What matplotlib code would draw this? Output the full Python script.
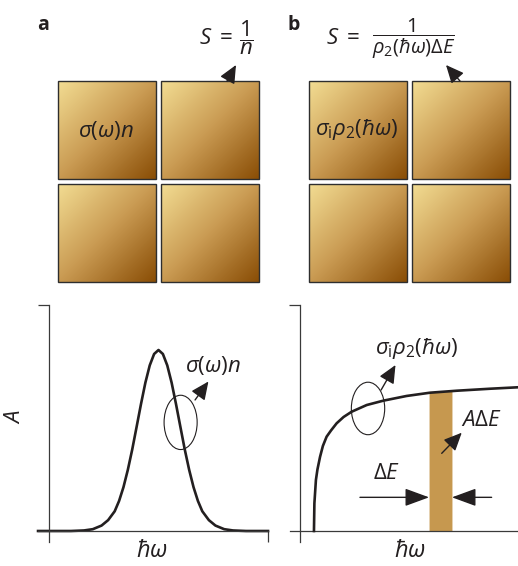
import numpy as np
import matplotlib
matplotlib.use("Agg")
import matplotlib.pyplot as plt
from matplotlib.colors import LinearSegmentedColormap
from matplotlib.patches import Ellipse, Rectangle, FancyArrowPatch

plt.rcParams['font.family'] = ['Open Sans', 'DejaVu Sans']
plt.rcParams['mathtext.fontset'] = 'custom'
plt.rcParams['mathtext.rm'] = 'Open Sans'
plt.rcParams['mathtext.it'] = 'Open Sans:italic'
plt.rcParams['mathtext.bf'] = 'Open Sans:bold'

# ---- data -----------------------------------------------------------------
# (a) discrete absorption line, A versus photon energy (arbitrary units)
line_energy = [-0.5, 1.0, 1.6, 2.0, 2.4, 2.7, 3.0, 3.2, 3.4, 3.6, 3.8, 4.0,
               4.2, 4.4, 4.6, 4.8, 5.0, 5.2, 5.4, 5.6, 5.8, 6.0, 6.2, 6.4,
               6.6, 6.8, 7.0, 7.3, 7.6, 8.0, 8.4, 9.0, 10.0]
line_absorbance = [0.0, 0.0, 0.003, 0.010, 0.030, 0.060, 0.109, 0.166, 0.242,
                   0.338, 0.450, 0.575, 0.701, 0.819, 0.915, 0.978, 1.0, 0.978,
                   0.915, 0.819, 0.701, 0.575, 0.450, 0.338, 0.242, 0.166,
                   0.109, 0.060, 0.030, 0.010, 0.003, 0.0, 0.0]

# (b) continuum absorption above threshold
edge_energy = [0.64, 0.66, 0.73, 0.80, 0.92, 1.05, 1.22, 1.42, 1.68, 2.0,
               2.37, 3.06, 3.82, 4.89, 5.96, 7.19, 8.72, 10.0]
edge_absorbance = [0.0, 0.153, 0.282, 0.34, 0.410, 0.47, 0.521, 0.555, 0.595,
                   0.63, 0.659, 0.696, 0.720, 0.746, 0.764, 0.775, 0.786, 0.794]

# energy window ΔE integrated in (b)
window = [5.92, 6.97]

tile_colors = ['#F2DC92', '#C99A52', '#8A4E06']
band_color = '#C6984F'
ink = '#231F20'
axis_color = '#3a3a3a'

W, H = 518, 566
fig = plt.figure(figsize=(W / 100, H / 100), dpi=100)


def box(x0, y0, x1, y1):
    """Figure-fraction rectangle from pixel edges (origin top-left)."""
    return [x0 / W, 1 - y1 / H, (x1 - x0) / W, (y1 - y0) / H]


# ---- top: 2x2 sample tiles -----------------------------------------------
top = fig.add_axes([0, 0, 1, 1])
top.axis('off')

cmap = LinearSegmentedColormap.from_list('tile', tile_colors)
n = 64
ii, jj = np.mgrid[0:n, 0:n]
grad = (ii + jj) / (2 * (n - 1))

tile = 98
gap = 5
for left in (58, 309):
    for r in range(2):
        for c in range(2):
            x0 = left + c * (tile + gap)
            y0 = 81 + r * (tile + gap)
            top.imshow(grad, cmap=cmap, extent=(x0, x0 + tile, y0 + tile, y0),
                       interpolation='bilinear', zorder=1)
            top.add_patch(Rectangle((x0, y0), tile, tile, fill=False,
                                    ec='#2e2e2e', lw=1.0, zorder=2))
top.set_xlim(0, W)
top.set_ylim(H, 0)

label_size = 16
top.text(106, 130, r'$\sigma(\omega)n$', fontsize=label_size, color=ink,
         ha='center', va='center', zorder=3)
top.text(357, 130, r'$\sigma_{\mathrm{i}}\rho_2(\hbar\omega)$',
         fontsize=label_size, color=ink, ha='center', va='center', zorder=3)

top.text(43, 25, 'a', fontsize=14, fontweight='bold', color=ink,
         ha='center', va='center')
top.text(294, 25, 'b', fontsize=14, fontweight='bold', color=ink,
         ha='center', va='center')

# sampling factor S for each case
top.text(216, 38, r'$S\;=$', fontsize=16, color=ink, ha='center', va='center')
top.text(246, 38, r'$\dfrac{1}{n}$', fontsize=16, color=ink,
         ha='center', va='center')
top.text(343, 38, r'$S\;=$', fontsize=16, color=ink, ha='center', va='center')
top.text(414, 39, r'$\dfrac{1}{\rho_2(\hbar\omega)\Delta E}$', fontsize=14.5,
         color=ink, ha='center', va='center')

for tail, tip in (((227, 81), (236, 65)), ((460, 81), (446, 65))):
    top.add_patch(FancyArrowPatch(tail, tip,
                                  arrowstyle='-|>,head_length=1.1,head_width=0.5',
                                  mutation_scale=10, color=ink, lw=1.0,
                                  shrinkA=0, shrinkB=0, zorder=4))

# axis labels
top.text(15, 417, '$A$', fontsize=16, color=ink, rotation=90,
         ha='center', va='center')
top.text(152, 551, r'$\hbar\omega$', fontsize=17, color=ink,
         ha='center', va='center')
top.text(410, 551, r'$\hbar\omega$', fontsize=17, color=ink,
         ha='center', va='center')


# ---- bottom: absorbance plots --------------------------------------------
def frame(ax, xlim, end_tick):
    ax.set_xlim(*xlim)
    ax.set_ylim(-0.0608, 1.2486)
    ax.patch.set_alpha(0)
    for s in ('top', 'right'):
        ax.spines[s].set_visible(False)
    for s in ('left', 'bottom'):
        ax.spines[s].set_position(('data', 0))
        ax.spines[s].set_color(axis_color)
        ax.spines[s].set_linewidth(0.9)
    ax.set_yticks([1.2486])
    ax.set_xticks([xlim[1]] if end_tick else [])
    ax.tick_params(direction='out', length=8, width=0.9, color=axis_color,
                   labelleft=False, labelbottom=False)


arrow_small = '-|>,head_length=1.1,head_width=0.5'
arrow_big = '-|>,head_length=1.5,head_width=0.55'

ax_a = fig.add_axes(box(38, 305, 268, 542))
frame(ax_a, (-0.502, 10.0), True)
ax_a.plot(line_energy, line_absorbance, color=ink, lw=1.9,
          solid_joinstyle='round', clip_on=False)
ax_a.add_patch(Ellipse((6.01, 0.60), 1.51, 0.30, fill=False, ec=ink, lw=0.8))
ax_a.add_patch(FancyArrowPatch((6.67, 0.724), (7.28, 0.826),
                               arrowstyle=arrow_small, mutation_scale=10,
                               color=ink, lw=1.0, shrinkA=0, shrinkB=0))
ax_a.text(6.21, 0.917, r'$\sigma(\omega)n$', fontsize=label_size, color=ink,
          ha='left', va='center')

ax_b = fig.add_axes(box(290, 305, 518, 542))
frame(ax_b, (-0.459, 10.0), False)

# shaded window under the curve
wx = np.array(edge_energy)
wy = np.array(edge_absorbance)
inside = (wx > window[0]) & (wx < window[1])
bx = np.concatenate([[window[0]], wx[inside], [window[1]]])
by = np.concatenate([[np.interp(window[0], wx, wy)], wy[inside],
                     [np.interp(window[1], wx, wy)]])
ax_b.fill_between(bx, 0, by, color=band_color, lw=0, zorder=1)

ax_b.plot(edge_energy, edge_absorbance, color=ink, lw=1.9,
          solid_joinstyle='round', zorder=3, clip_on=False)
ax_b.add_patch(Ellipse((3.12, 0.677), 1.53, 0.29, fill=False, ec=ink, lw=0.8,
                       zorder=3))
ax_b.add_patch(FancyArrowPatch((3.72, 0.779), (4.38, 0.917),
                               arrowstyle=arrow_small, mutation_scale=10,
                               color=ink, lw=1.0, shrinkA=0, shrinkB=0, zorder=4))
ax_b.text(3.44, 1.006, r'$\sigma_{\mathrm{i}}\rho_2(\hbar\omega)$',
          fontsize=label_size, color=ink, ha='left', va='center')

ax_b.add_patch(FancyArrowPatch((6.50, 0.429), (7.42, 0.543),
                               arrowstyle=arrow_small, mutation_scale=10,
                               color=ink, lw=1.0, shrinkA=0, shrinkB=0, zorder=4))
ax_b.text(7.39, 0.613, r'$A\Delta E$', fontsize=label_size, color=ink,
          ha='left', va='center')

ax_b.add_patch(FancyArrowPatch((2.75, 0.186), (window[0], 0.186),
                               arrowstyle=arrow_big, mutation_scale=10,
                               color=ink, lw=1.0, shrinkA=0, shrinkB=0, zorder=4))
ax_b.add_patch(FancyArrowPatch((8.79, 0.186), (window[1], 0.186),
                               arrowstyle=arrow_big, mutation_scale=10,
                               color=ink, lw=1.0, shrinkA=0, shrinkB=0, zorder=4))
ax_b.text(3.35, 0.315, r'$\Delta E$', fontsize=label_size, color=ink,
          ha='left', va='center')

fig.savefig('out.png', dpi=100)
